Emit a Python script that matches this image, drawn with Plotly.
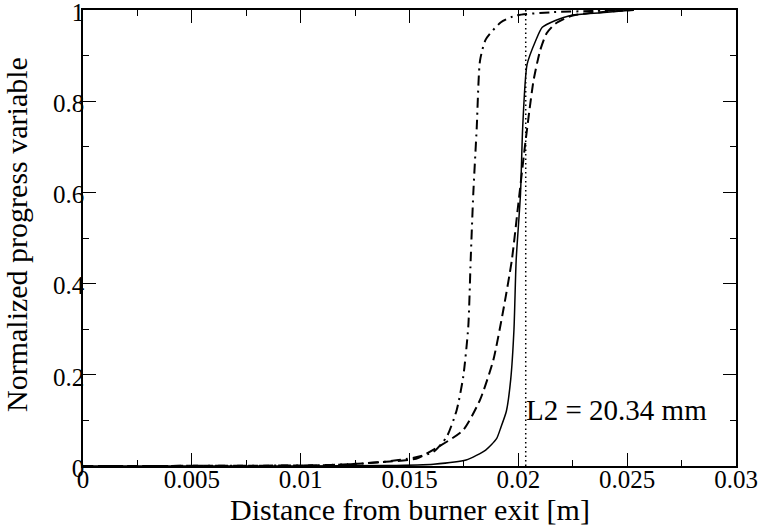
import plotly.graph_objects as go

# Data
solid_x = [0, 0.010, 0.014, 0.0161, 0.0176, 0.0185, 0.0190, 0.0192, 0.01945, 0.01965, 0.0198,
           0.0199, 0.0201, 0.0202, 0.0204, 0.0208, 0.0211, 0.0217, 0.0224, 0.0238, 0.0253]
solid_y = [0, 0, 0.001, 0.004, 0.013, 0.035, 0.06, 0.085, 0.12, 0.19, 0.30,
           0.451, 0.597, 0.743, 0.880, 0.933, 0.962, 0.977, 0.988, 0.994, 1.0]

dashed_x = [0, 0.0107, 0.0123, 0.0138, 0.0153, 0.0164, 0.01747, 0.01824, 0.01885, 0.01931,
            0.0197, 0.0200, 0.0203, 0.02051, 0.0207, 0.0210, 0.0213, 0.0217, 0.0225, 0.0240, 0.0253]
dashed_y = [0, 0.0015, 0.004, 0.009, 0.016, 0.044, 0.079, 0.145, 0.232, 0.342,
            0.451, 0.575, 0.70, 0.78, 0.846, 0.911, 0.949, 0.970, 0.988, 0.996, 1.0]

dashdot_x = [0, 0.0107, 0.0123, 0.0138, 0.0152, 0.0161, 0.01671, 0.01717, 0.01747, 0.0177,
             0.01781, 0.01793, 0.01809, 0.01824, 0.0185, 0.0192, 0.0199, 0.0215, 0.0235, 0.0253]
dashdot_y = [0, 0.0015, 0.004, 0.009, 0.018, 0.031, 0.064, 0.123, 0.196, 0.305,
             0.451, 0.597, 0.743, 0.889, 0.935, 0.973, 0.988, 0.995, 0.998, 1.0]

l2_x = [0.02034, 0.02034]
l2_y = [0, 1]
l2_label = "L2 = 20.34 mm"

x_title = "Distance from burner exit [m]"
y_title = "Normalized progress variable"

x_tickvals = [0, 0.005, 0.01, 0.015, 0.02, 0.025, 0.03]
x_ticktext = ["0", "0.005", "0.01", "0.015", "0.02", "0.025", "0.03"]
y_tickvals = [0, 0.2, 0.4, 0.6, 0.8, 1.0]
y_ticktext = ["0", "0.2", "0.4", "0.6", "0.8", "1"]

FONT = "Liberation Serif"
TICK_FS = 25
TITLE_FS = 30
ANN_FS = 29

fig = go.Figure()
fig.add_trace(go.Scatter(x=solid_x, y=solid_y, mode="lines",
                         line=dict(color="black", width=1.5, shape="spline", smoothing=0.6)))
fig.add_trace(go.Scatter(x=dashed_x, y=dashed_y, mode="lines",
                         line=dict(color="black", width=2, dash="10px,5px", shape="spline", smoothing=0.6)))
fig.add_trace(go.Scatter(x=dashdot_x, y=dashdot_y, mode="lines",
                         line=dict(color="black", width=2, dash="10px,5px,2px,5px", shape="spline", smoothing=0.6)))
fig.add_trace(go.Scatter(x=l2_x, y=l2_y, mode="lines",
                         line=dict(color="black", width=1.5, dash="1.5px,3px")))

fig.add_annotation(x=0.02034, y=0.123, text=l2_label, showarrow=False,
                   xanchor="left", yanchor="middle", xshift=-2,
                   font=dict(family=FONT, size=ANN_FS, color="black"))

# axis titles as annotations for precise placement
fig.add_annotation(x=0.5, y=0, xref="paper", yref="paper", text=x_title, showarrow=False,
                   xanchor="center", yanchor="middle", yshift=-43,
                   font=dict(family=FONT, size=TITLE_FS, color="black"))
fig.add_annotation(x=-0.1026, y=0.5, xref="paper", yref="paper", text=y_title, showarrow=False,
                   textangle=-90, xanchor="center", yanchor="middle", yshift=3,
                   font=dict(family=FONT, size=TITLE_FS, color="black"))

axis_common = dict(
    showline=True, linecolor="black", linewidth=1.5, mirror="ticks",
    ticks="inside", ticklen=13, tickwidth=1.2, tickcolor="black",
    showgrid=False, zeroline=False, ticklabeloverflow="allow", automargin=False,
    tickfont=dict(family=FONT, size=TICK_FS, color="black"),
)

fig.update_xaxes(range=[0, 0.03], tickvals=x_tickvals, ticktext=x_ticktext,
                 minor=dict(ticks="inside", ticklen=6, dtick=0.0025, tick0=0, tickcolor="black", showgrid=False),
                 ticklabelstandoff=-10,
                 **axis_common)
fig.update_yaxes(range=[0, 1], tickvals=y_tickvals, ticktext=y_ticktext,
                 minor=dict(ticks="inside", ticklen=6, dtick=0.1, tick0=0, tickcolor="black", showgrid=False),
                 ticklabelstandoff=-8, ticklabelshift=2,
                 **axis_common)

fig.update_layout(width=758, height=532, showlegend=False,
                  margin=dict(l=83, r=22, t=10, b=66),
                  plot_bgcolor="white", paper_bgcolor="white",
                  font=dict(family=FONT, size=TICK_FS, color="black"))

# remove the page's default body margin so the figure sits at the window's corner
fig.write_html("out.html", config={"displayModeBar": False},
               post_script="document.body.style.margin='0';")
